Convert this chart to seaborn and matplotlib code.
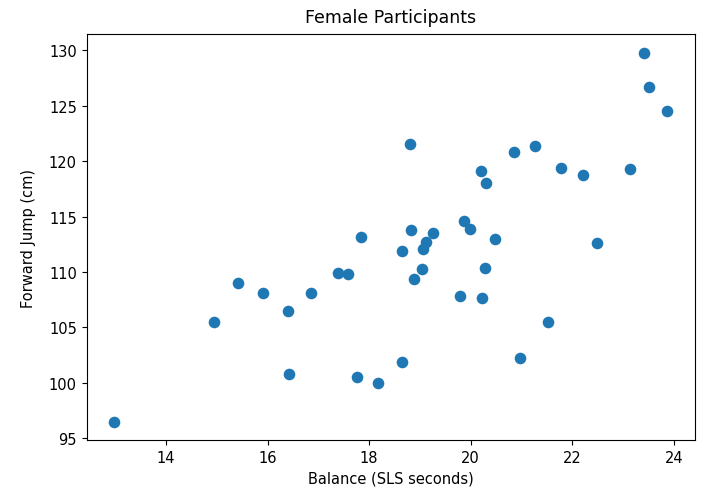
import pandas as pd
import seaborn as sns
import matplotlib.pyplot as plt

# Balance (SLS seconds) vs forward jump (cm)
balance = [23.42, 23.52, 23.87, 18.80, 20.86, 21.26, 20.20, 20.30, 21.77, 22.21,
           23.13, 18.82, 19.26, 19.87, 19.99, 20.47, 19.12, 22.48, 19.07, 18.65,
           19.05, 18.89, 20.28, 19.79, 20.23, 21.53, 18.65, 20.98, 12.98, 14.94,
           15.42, 15.90, 16.41, 16.86, 17.39, 17.59, 16.43, 17.76, 18.17, 17.84]
jump = [129.8, 126.7, 124.5, 121.6, 120.8, 121.4, 119.1, 118.0, 119.4, 118.8,
        119.3, 113.8, 113.5, 114.6, 113.9, 113.0, 112.7, 112.6, 112.1, 111.9,
        110.3, 109.4, 110.4, 107.8, 107.7, 105.5, 101.9, 102.2, 96.5, 105.5,
        109.0, 108.1, 106.5, 108.1, 109.9, 109.8, 100.8, 100.5, 100.0, 113.2]

df = pd.DataFrame({"Balance": balance, "Jump": jump})

fig = plt.figure(figsize=(7.04, 4.89), dpi=100)
ax = fig.add_axes([0.123, 0.098, 0.864, 0.830])
sns.scatterplot(data=df, x="Balance", y="Jump", ax=ax, s=70, color="#1f77b4",
                linewidth=0)

ax.set_xticks([14, 16, 18, 20, 22, 24])
ax.set_yticks([95, 100, 105, 110, 115, 120, 125, 130])
ax.tick_params(labelsize=10.5)
ax.set_xlabel("Balance (SLS seconds)", fontsize=10.5)
ax.set_ylabel("Forward Jump (cm)", fontsize=10.5, labelpad=9)
ax.set_title("Female Participants", fontsize=12.5, pad=9)

plt.savefig("out.png", dpi=100)
